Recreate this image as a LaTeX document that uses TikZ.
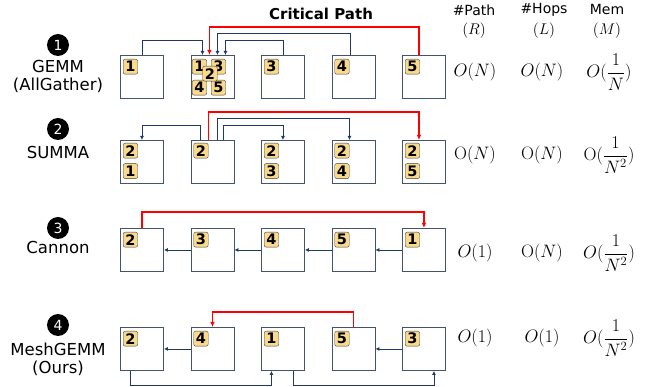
\RequirePackage{fix-cm}
\documentclass[tikz,border=0pt]{standalone}
\usepackage{amsmath}
\usepackage{fontspec}
\setsansfont{DejaVu Sans}
\usetikzlibrary{positioning,arrows.meta}
\definecolor{cellline}{HTML}{44546A}
\definecolor{linkline}{HTML}{203864}
\definecolor{tagfill}{HTML}{F9D98B}
\tikzset{
 cell/.style={draw=cellline,line width=0.9pt,minimum size=43pt,inner sep=0pt},
 tag/.style={draw=black!75,fill=tagfill,rounded corners=2pt,minimum width=14.5pt,minimum height=15pt,
  inner sep=0pt,font=\sffamily\bfseries\fontsize{14.5}{14.5}\selectfont},
 link/.style={draw=linkline,line width=0.8pt,-{Latex[length=4pt,width=4pt]}},
 crit/.style={draw=red,line width=1.6pt,-{Latex[length=5pt,width=4.5pt]}},
 num/.style={circle,fill=black,text=white,minimum size=22pt,inner sep=0pt,
  font=\sffamily\fontsize{14}{14}\selectfont},
 algo/.style={font=\sffamily\fontsize{16.5}{18}\selectfont,align=center},
 head/.style={font=\sffamily\fontsize{14}{14}\selectfont},
 sub/.style={font=\fontsize{15.5}{15.5}\selectfont},
 val/.style={font=\fontsize{18}{18}\selectfont}
}

\begin{document}
\begin{tikzpicture}[x=1pt,y=-1pt]
\useasboundingbox (0,0) rectangle (649,387);
\def\dx{70.5}

% cells, one row per algorithm
\foreach \r/\y in {a/55,b/140,c/228,d/327}
 \foreach \i in {1,...,5}
  \node[cell,anchor=north west] (\r\i) at ({120+\dx*(\i-1)},\y) {};

% left labels
\node[num] (n1) at (58,45) {1};
\node[algo] (g1) at (58,76.5) {GEMM\\(AllGather)};
\node[num] (n2) at (58,129) {2};
\node[algo] (g2) at (58,152) {SUMMA};
\node[num] (n3) at (58,228) {3};
\node[algo] (g3) at (58,247) {Cannon};
\node[num] (n4) at (58,325) {4};
\node[algo] (g4) at (58,359) {MeshGEMM\\(Ours)};

% headers
\node[font=\sffamily\bfseries\fontsize{15}{15}\selectfont] (cp) at (321,14) {Critical Path};
\node[head] (hp) at (474,10) {\#Path};
\node[sub] (hr) at (474,31) {$(R)$};
\node[head] (hh) at (544,10) {\#Hops};
\node[sub] (hl) at (544,31) {$(L)$};
\node[head] (hm) at (607,10) {Mem};
\node[sub] (hmm) at (607,31) {$(M)$};

%row-1 GEMM (AllGather)
\node[tag,below right=4pt and 3pt of a1.north west] (ta1) {1};
\node[tag,below right=4pt and 1.5pt of a2.north west] (ta21) {1};
\node[tag,below right=4pt and 20.5pt of a2.north west] (ta23) {3};
\node[tag,below right=25pt and 1.5pt of a2.north west] (ta24) {4};
\node[tag,below right=25pt and 20.5pt of a2.north west] (ta25) {5};
\node[tag,below right=11pt and 12pt of a2.north west] (ta22) {2};
\foreach \i in {3,4,5}
 \node[tag,below right=4pt and 3pt of a\i.north west] (ta\i) {\i};
\draw[link] (a1.north) -- ++(0,-15) -| ([xshift=-10pt]a2.north);
\draw[link] (a3.north) -- ++(0,-15) -| ([xshift=13pt]a2.north);
\draw[link] ([xshift=-3pt]a4.north) -- ++(0,-22) -| ([xshift=5pt]a2.north);
\draw[crit] ([xshift=-5pt]a5.north) -- ++(0,-28) -| ([xshift=-3pt]a2.north);

%row-2 SUMMA
\foreach \i in {1,...,5}
 \node[tag,below right=3pt and 3pt of b\i.north west] (tb\i) {2};
\foreach \i in {1,3,4,5}
 \node[tag,below=5pt of tb\i] (ub\i) {\i};
\draw[link] ([xshift=-12pt]b2.north) -- ++(0,-15) -| (b1.north);
\draw[link] ([xshift=11pt]b2.north) -- ++(0,-15) -| (b3.north);
\draw[link] ([xshift=5pt]b2.north) -- ++(0,-22) -| ([xshift=-4pt]b4.north);
\draw[crit] ([xshift=-4pt]b2.north) -- ++(0,-28) -| ([xshift=-5pt]b5.north);

%row-3 Cannon
\foreach \i/\n in {1/2,2/3,3/4,4/5,5/1}
 \node[tag,below right=4pt and 3pt of c\i.north west] (tc\i) {\n};
\foreach \i/\j in {5/4,4/3,3/2,2/1}
 \draw[link] (c\i.west) -- (c\j.east);
\draw[crit] (c1.north) -- ++(0,-16) -| (c5.north);

%row-4 MeshGEMM
\foreach \i/\n in {1/2,2/4,3/1,4/5,5/3}
 \node[tag,below right=4pt and 3pt of d\i.north west] (td\i) {\n};
\draw[link] (d2.west) -- (d1.east);
\draw[link] (d5.west) -- (d4.east);
\draw[crit] (d4.north) -- ++(0,-15) -| (d2.north);
\draw[link] ([xshift=-11.5pt]d1.south) -- ++(0,15) -| ([xshift=-11.5pt]d3.south);
\draw[link] ([xshift=10.5pt]d3.south) -- ++(0,15) -| ([xshift=10pt]d5.south);

% costs
\node[val] (r1) at (475,72) {$O(N)$};
\node[val] (l1) at (542,72) {$O(N)$};
\node[val] (m1) at (609,72) {$O(\dfrac{1}{N})$};
\node[val] (r2) at (475,155) {$\mathrm{O}(N)$};
\node[val] (l2) at (542,155) {$\mathrm{O}(N)$};
\node[val] (m2) at (609,155) {$\mathrm{O}(\dfrac{1}{N^2})$};
\node[val] (r3) at (475,253) {$O(1)$};
\node[val] (l3) at (542,253) {$\mathrm{O}(N)$};
\node[val] (m3) at (609,253) {$O(\dfrac{1}{N^2})$};
\node[val] (r4) at (475,338) {$O(1)$};
\node[val] (l4) at (542,338) {$O(1)$};
\node[val] (m4) at (609,338) {$O(\dfrac{1}{N^2})$};
\end{tikzpicture}
\end{document}
